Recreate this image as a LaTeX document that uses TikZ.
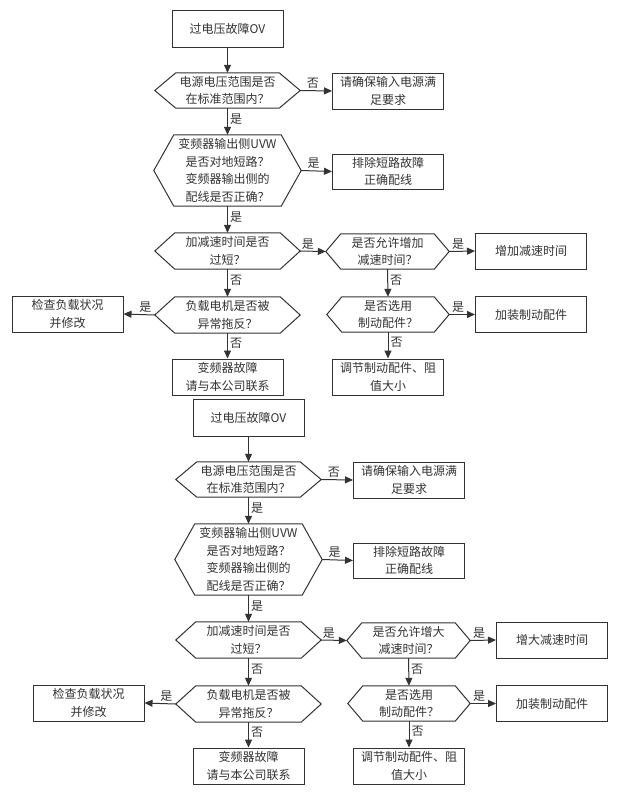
\documentclass[tikz,border=0pt]{standalone}
\usepackage{fontspec}
\newfontfamily\cjk{Noto Sans CJK SC}
\usetikzlibrary{arrows.meta}
\definecolor{ink}{HTML}{333333}
\tikzset{
  every node/.style={font=\cjk\fontsize{12}{17.5}\selectfont, text=ink},
  box/.style={draw=ink, line width=1pt, minimum width=111pt, minimum height=36pt, align=center, inner sep=0pt},
  hexn/.style={minimum height=36pt, align=center, inner sep=0pt},
  hexline/.style={draw=ink, line width=1pt, line join=miter},
  arr/.style={draw=ink, line width=1pt, -{Triangle[length=8pt,width=7pt]}},
  lblh/.style={above, inner sep=1.5pt, pos=0.4},
  lblv/.style={right, inner sep=2pt, pos=0.4}
}
\newcommand\hexdraw[2]{%
  \draw[hexline] (#1.west) -- ([xshift=#2]#1.north west) -- ([xshift=-#2]#1.north east)
    -- (#1.east) -- ([xshift=-#2]#1.south east) -- ([xshift=#2]#1.south west) -- cycle;}
\newcommand\flowcopy[2]{%
  \node[box, minimum height=37pt] (#1top) at (227.5,28.5) {过电压故障OV};
  \node[hexn, minimum width=145pt, minimum height=35pt] (#1ha) at (227.5,90.5) {电源电压范围是否\\在标准范围内？};
  \node[box] (#1ba) at (388,91) {请确保输入电源满\\足要求};
  \node[hexn, minimum width=147pt, minimum height=71pt] (#1hb) at (227.5,170.5) {变频器输出侧UVW\\是否对地短路？\\变频器输出侧的\\配线是否正确？};
  \node[box, minimum height=35pt] (#1bb) at (388,171.5) {排除短路故障\\正确配线};
  \node[hexn, minimum width=145pt] (#1hc) at (227.5,251) {加减速时间是否\\过短？};
  \node[hexn, minimum width=123pt, minimum height=35pt] (#1hd) at (387.5,251.5) {是否允许增#2\\减速时间？};
  \node[box] (#1bc) at (531,251) {增#2减速时间};
  \node[hexn, minimum width=145pt] (#1he) at (227.5,315) {负载电机是否被\\异常拖反？};
  \node[box] (#1bd) at (67.5,314) {检查负载状况\\并修改};
  \node[hexn, minimum width=122pt, minimum height=35pt] (#1hf) at (388,314.5) {是否选用\\制动配件？};
  \node[box] (#1be) at (531,314.5) {加装制动配件};
  \node[box] (#1bf) at (227.5,377) {变频器故障\\请与本公司联系};
  \node[box] (#1bg) at (388,377) {调节制动配件、阻\\值大小};
  \hexdraw{#1ha}{21pt}
  \hexdraw{#1hb}{20pt}
  \hexdraw{#1hc}{20pt}
  \hexdraw{#1he}{20pt}
  \hexdraw{#1hd}{15pt}
  \hexdraw{#1hf}{15pt}
  \draw[arr] (#1top) -- (#1ha);
  \draw[arr] (#1ha.east) -- node[lblh] {否} (#1ba.west);
  \draw[arr] (#1ha.south) -- node[lblv] {是} (#1hb.north);
  \draw[arr] (#1hb.east) -- node[lblh] {是} (#1bb.west);
  \draw[arr] (#1hb.south) -- node[lblv] {是} (#1hc.north);
  \draw[arr] (#1hc.east) -- node[lblh, pos=0.3] {是} (#1hd.west);
  \draw[arr] (#1hd.east) -- node[lblh, pos=0.35] {是} (#1bc.west);
  \draw[arr] (#1hc.south) -- node[lblv] {否} (#1he.north);
  \draw[arr] (#1hd.south) -- node[lblv] {否} (#1hf.north);
  \draw[arr] (#1he.west) -- node[lblh, pos=0.3] {是} (#1bd.east);
  \draw[arr] (#1hf.east) -- node[lblh, pos=0.35] {是} (#1be.west);
  \draw[arr] (#1he.south) -- node[lblv] {否} (#1bf.north);
  \draw[arr] (#1hf.south) -- node[lblv] {否} (#1bg.north);
}
\begin{document}
\begin{tikzpicture}[x=1pt, y=-1pt]
  \fill[white] (0,0) rectangle (621,798);
  \useasboundingbox (0,0) rectangle (621,798);
  \flowcopy{p}{加}
  \begin{scope}[shift={(21,389)}]
    \flowcopy{q}{大}
  \end{scope}
\end{tikzpicture}
\end{document}
